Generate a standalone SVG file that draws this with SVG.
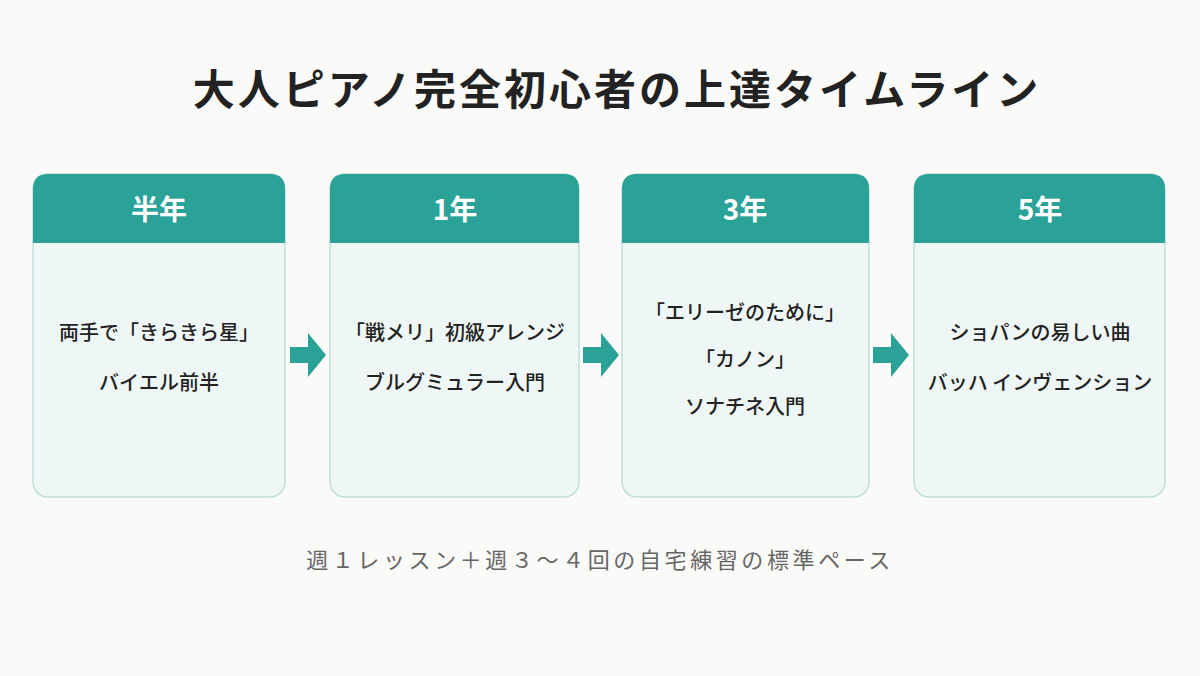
<svg xmlns="http://www.w3.org/2000/svg" width="1200" height="676" viewBox="0 0 1200 676">
<style>
.card{fill:#eff7f6;stroke:#bfe0da;stroke-width:1.5}
.hd{fill:#2aa297}
.ht{font-family:"Noto Sans CJK JP",sans-serif;font-weight:700;font-size:28px;fill:#fff;text-anchor:middle}
.bt{font-family:"Noto Sans CJK JP",sans-serif;font-weight:500;font-size:20px;fill:#222;text-anchor:middle}
.ar{fill:#2aa297}
</style>
<defs>
<path id="arw" d="M0,-8 H18 V-22 L36,0 L18,22 V8 H0 Z"/>
</defs>
<rect width="1200" height="676" fill="#fafaf8"/>
<text x="617" y="105" text-anchor="middle" font-family="Noto Sans CJK JP, sans-serif" font-weight="700" font-size="42" fill="#222" letter-spacing="3">大人ピアノ完全初心者の上達タイムライン</text>
<g id="n1">
<rect class="card" x="33" y="174" width="252" height="323" rx="15"/>
<path class="hd" d="M33,243 V189 Q33,174 48,174 H270 Q285,174 285,189 V243 Z"/>
<text class="ht" x="159" y="220">半年</text>
<text class="bt" x="159" y="340">両手で「きらきら星」</text>
<text class="bt" x="159" y="390">バイエル前半</text>
</g>
<g id="n2">
<rect class="card" x="330" y="174" width="249" height="323" rx="15"/>
<path class="hd" d="M330,243 V189 Q330,174 345,174 H564 Q579,174 579,189 V243 Z"/>
<text class="ht" x="455" y="220">1年</text>
<text class="bt" x="455" y="340">「戦メリ」初級アレンジ</text>
<text class="bt" x="455" y="390">ブルグミュラー入門</text>
</g>
<g id="n3">
<rect class="card" x="622" y="174" width="247" height="323" rx="15"/>
<path class="hd" d="M622,243 V189 Q622,174 637,174 H854 Q869,174 869,189 V243 Z"/>
<text class="ht" x="745" y="220">3年</text>
<text class="bt" x="745" y="320">「エリーゼのために」</text>
<text class="bt" x="745" y="367">「カノン」</text>
<text class="bt" x="745" y="414">ソナチネ入門</text>
</g>
<g id="n4">
<rect class="card" x="914" y="174" width="251" height="323" rx="15"/>
<path class="hd" d="M914,243 V189 Q914,174 929,174 H1150 Q1165,174 1165,189 V243 Z"/>
<text class="ht" x="1040" y="220">5年</text>
<text class="bt" x="1040" y="340">ショパンの易しい曲</text>
<text class="bt" x="1040" y="390">バッハ インヴェンション</text>
</g>
<g id="connectors" class="ar">
<use href="#arw" x="290" y="355"/>
<use href="#arw" x="583" y="355"/>
<use href="#arw" x="873" y="355"/>
</g>
<text x="600" y="568" text-anchor="middle" font-family="Noto Sans CJK JP, sans-serif" font-size="22" fill="#666" letter-spacing="3.6">週１レッスン＋週３～４回の自宅練習の標準ペース</text>
</svg>
